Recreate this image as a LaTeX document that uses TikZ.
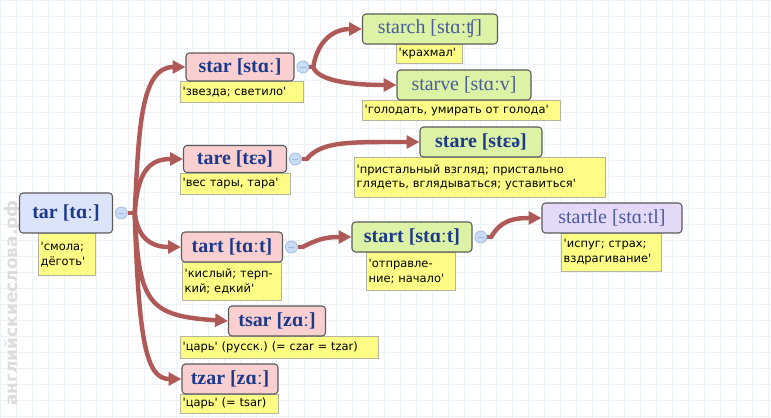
\documentclass[tikz,border=0pt]{standalone}
\usepackage{fontspec}
\setmainfont{DejaVu Sans}[Ligatures=TeXOff]
\newfontfamily\wordfont{Liberation Serif}
\usetikzlibrary{arrows.meta, positioning}
\definecolor{cgrid}{HTML}{EDF1F8}
\definecolor{cline}{HTML}{B05A58}
\definecolor{cblue}{HTML}{DCE4FA}
\definecolor{cpink}{HTML}{F9CFCF}
\definecolor{cgreen}{HTML}{DCF3A6}
\definecolor{cpurple}{HTML}{E4DAF8}
\definecolor{cyellow}{HTML}{FDFD86}
\definecolor{cedge}{HTML}{5A5A5A}
\definecolor{cgloss}{HTML}{B4B4A0}
\definecolor{cink}{HTML}{1C3A8C}
\definecolor{cinklight}{HTML}{4A5A9E}
\definecolor{cfold}{HTML}{C9DCF6}
\definecolor{cfoldedge}{HTML}{9DB9E2}
\definecolor{cmark}{HTML}{DCDCDC}
\newlength{\unitpx}
\setlength{\unitpx}{0.03cm}
\frenchspacing
\tikzset{
  word/.style={draw=cedge, fill=#1, rounded corners=3pt, line width=0.9pt, inner sep=0pt,
    font=\wordfont\fontsize{17}{17}\selectfont\bfseries, text=cink},
  word/.default=cpink,
  lite/.style={font=\wordfont\fontsize{17}{17}\selectfont, text=cinklight},
  gloss/.style 2 args={draw=cgloss, fill=cyellow, line width=0.5pt, anchor=north west, align=left,
    inner xsep=2pt, inner ysep=1pt, text width=#1\unitpx-4pt, minimum height=#2\unitpx,
    font=\fontsize{9.8}{12.5}\selectfont},
  fold/.style={circle, draw=cfoldedge, fill=cfold, line width=0.6pt, inner sep=0pt, minimum size=12\unitpx,
    path picture={\draw[cfoldedge, line width=0.7pt] ([xshift=-3\unitpx]path picture bounding box.center)
      -- ([xshift=3\unitpx]path picture bounding box.center);}},
  link/.style={draw=cline, line width=3.8pt, line cap=round, -{Triangle[length=11pt, width=11pt]}},
  stub/.style={draw=cline, line width=3.8pt},
}

\begin{document}
\begin{tikzpicture}[x=\unitpx, y=-\unitpx]
  \useasboundingbox (0,0) rectangle (771,418);
  \fill[white] (0,0) rectangle (771,418);
  \draw[cgrid, line width=0.4pt, step=16\unitpx] (0,0) grid (771,418);
  \node[rotate=90, text=cmark, font=\fontsize{14.5}{14.5}\selectfont\bfseries] (mark) at (13,303) {английскиеслова.рф};
  % glosses
  \node[gloss={57}{42}] (tarG) at (38,233) {'смола;\\дёготь'};
  \node[gloss={123}{21}] (starG) at (180,81) {'звезда; светило'};
  \node[gloss={66}{19}] (starchG) at (396,44) {'крахмал'};
  \node[gloss={198}{20}] (starveG) at (362,100) {'голодать, умирать от голода'};
  \node[gloss={110}{21}] (tareG) at (180,173) {'вес тары, тара'};
  \node[gloss={251}{40}] (stareG) at (354,157) {'пристальный взгляд; пристально\\глядеть, вглядываться; уставиться'};
  \node[gloss={99}{38}] (tartG) at (182,262) {'кислый; терп-\\кий; едкий'};
  \node[gloss={89}{38}] (startG) at (366,252) {'отправле-\\ние; начало'};
  \node[gloss={100}{38}] (startleG) at (561,233) {'испуг; страх;\\вздрагивание'};
  \node[gloss={198}{22}] (tsarG) at (180,336) {'царь' (русск.) (= czar = tzar)};
  \node[gloss={98}{19}] (tzarG) at (180,394) {'царь' (= tsar)};
  % words
  \node[word=cblue, minimum width=93\unitpx, minimum height=40\unitpx] (tar) at (66,213) {tar [tɑː]};
  \node[word, minimum width=108\unitpx, minimum height=28\unitpx] (star) at (240,67) {star [stɑː]};
  \node[word=cgreen, lite, minimum width=135\unitpx, minimum height=30\unitpx] (starch) at (430,29) {starch [stɑːʧ]};
  \node[word=cgreen, lite, minimum width=134\unitpx, minimum height=30\unitpx] (starve) at (464,85) {starve [stɑːv]};
  \node[word, minimum width=103\unitpx, minimum height=27\unitpx] (tare) at (235,159) {tare [tɛə]};
  \node[word=cgreen, minimum width=122\unitpx, minimum height=30\unitpx] (stare) at (481,142) {stare [stɛə]};
  \node[word, minimum width=101\unitpx, minimum height=30\unitpx] (tart) at (232,247) {tart [tɑːt]};
  \node[word=cgreen, minimum width=120\unitpx, minimum height=30\unitpx] (start) at (412,237) {start [stɑːt]};
  \node[word=cpurple, lite, minimum width=140\unitpx, minimum height=30\unitpx] (startle) at (612,218) {startle [stɑːtl]};
  \node[word, minimum width=97\unitpx, minimum height=30\unitpx] (tsar) at (277,321) {tsar [zɑː]};
  \node[word, minimum width=96\unitpx, minimum height=30\unitpx] (tzar) at (230,379) {tzar [zɑː]};
  % fold buttons
  \node[fold, right=2\unitpx of tar] (tarF) {};
  \node[fold, right=2\unitpx of star] (starF) {};
  \node[fold, right=2\unitpx of tare] (tareF) {};
  \node[fold, right=2\unitpx of tart] (tartF) {};
  \node[fold, right=2\unitpx of start] (startF) {};
  \coordinate[right=7\unitpx of tarF] (tarJ);
  \coordinate[right=4\unitpx of starF] (starJ);
  \coordinate[right=5\unitpx of tareF] (tareJ);
  \coordinate[right=5\unitpx of tartF] (tartJ);
  \coordinate[right=4\unitpx of startF] (startJ);
  % links
  \draw[stub] (tarF) -- (tarJ);
  \draw[stub] (starF) -- (starJ);
  \draw[stub] (tareF) -- (tareJ);
  \draw[stub] (tartF) -- (tartJ);
  \draw[stub] (startF) -- (startJ);
  \draw[link] (tarJ) .. controls +(4,-83) and +(-45,0) .. (star.west);
  \draw[link] (tarJ) .. controls +(3,-40) and +(-35,0) .. (tare.west);
  \draw[link] (tarJ) .. controls +(3,25) and +(-30,0) .. (tart.west);
  \draw[link] (tarJ) .. controls +(4,90) and +(-80,-5) .. (tsar.west);
  \draw[link] (tarJ) .. controls +(4,130) and +(-35,0) .. (tzar.west);
  \draw[link] (starJ) .. controls +(5,-30) and +(-25,0) .. (starch.west);
  \draw[link] (starJ) .. controls +(5,15) and +(-40,0) .. (starve.west);
  \draw[link] (tareJ) .. controls +(15,-18) and +(-70,0) .. (stare.west);
  \draw[link] (tartJ) .. controls +(15,-8) and +(-25,0) .. (start.west);
  \draw[link] (startJ) .. controls +(10,-18) and +(-25,0) .. (startle.west);
\end{tikzpicture}
\end{document}
